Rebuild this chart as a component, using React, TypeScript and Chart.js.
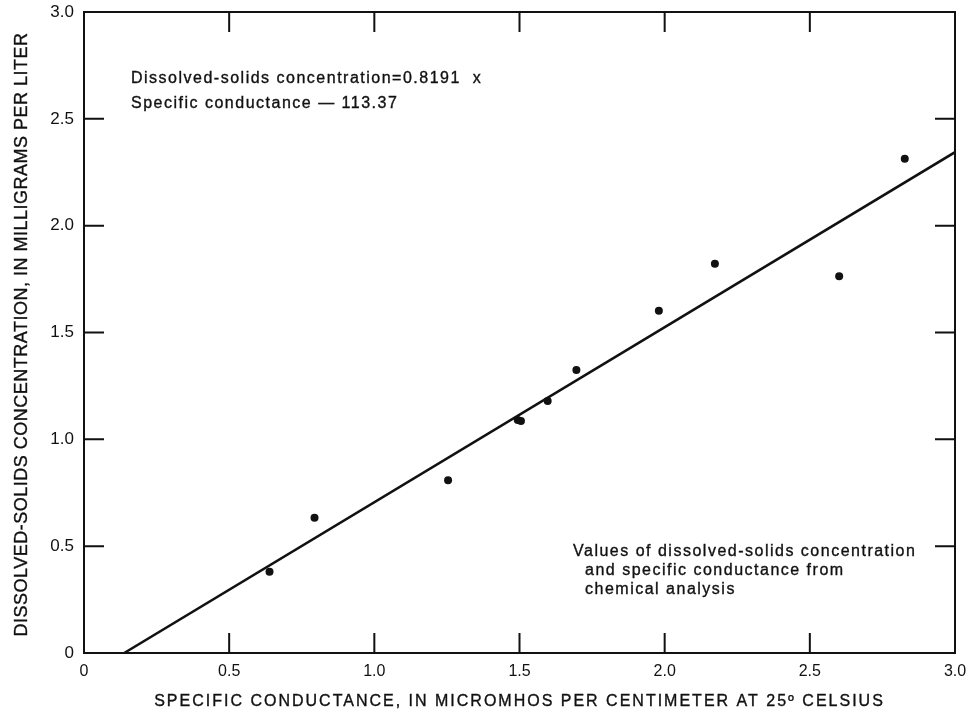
import React, { useEffect, useRef } from "react";
import { Chart, registerables } from "chart.js";

Chart.register(...registerables);

// Specific conductance (x) and dissolved-solids concentration (y)
const conductance = [0.639, 0.794, 1.254, 1.494, 1.505, 1.597, 1.696, 1.98, 2.173, 2.601, 2.827];
const dissolvedSolids = [0.38, 0.633, 0.808, 1.091, 1.086, 1.179, 1.324, 1.602, 1.822, 1.763, 2.313];

// Regression: y = 0.8191 x - 0.11337
const slope = 0.8191;
const intercept = -0.11337;
const lineXRange = [-intercept / slope, 3.0];

const xTicks = [0, 0.5, 1.0, 1.5, 2.0, 2.5, 3.0];
const yTicks = [0, 0.5, 1.0, 1.5, 2.0, 2.5, 3.0];

const xTitle = "SPECIFIC CONDUCTANCE, IN MICROMHOS PER CENTIMETER AT 25º CELSIUS";
const yTitle = "DISSOLVED-SOLIDS CONCENTRATION, IN MILLIGRAMS PER LITER";
const equationLines = ["Dissolved-solids concentration=0.8191  x", "Specific conductance — 113.37"];
const noteLines = ["Values of dissolved-solids concentration", "and specific conductance from", "chemical analysis"];

const FONT = "'Liberation Sans', Arial, Helvetica, sans-serif";
const INK = "#111";

const fmt = (v: number) => (v === 0 ? "0" : v.toFixed(1));

const heavyText = (ctx: any, text: string, x: number, y: number) => {
  ctx.fillText(text, x, y);
  ctx.strokeText(text, x, y);
};

const framePlugin = {
  id: "framePlugin",
  afterDraw(chart: any) {
    const { ctx, chartArea } = chart;
    const { left, right, top, bottom } = chartArea;
    const xs = chart.scales.x;
    const ys = chart.scales.y;
    ctx.save();
    ctx.strokeStyle = INK;
    ctx.lineWidth = 2;
    ctx.strokeRect(left, top, right - left, bottom - top);
    const tl = 20;
    ctx.beginPath();
    xTicks.slice(1, -1).forEach((v) => {
      const px = xs.getPixelForValue(v);
      ctx.moveTo(px, bottom);
      ctx.lineTo(px, bottom - tl);
      ctx.moveTo(px, top);
      ctx.lineTo(px, top + tl);
    });
    yTicks.slice(1, -1).forEach((v) => {
      const py = ys.getPixelForValue(v);
      ctx.moveTo(left, py);
      ctx.lineTo(left + tl, py);
      ctx.moveTo(right, py);
      ctx.lineTo(right - tl, py);
    });
    ctx.stroke();

    ctx.fillStyle = INK;
    ctx.lineWidth = 0.35;
    // axis titles
    ctx.font = `16px ${FONT}`;
    (ctx as any).letterSpacing = "2px";
    ctx.textAlign = "center";
    ctx.textBaseline = "alphabetic";
    heavyText(ctx, xTitle, (left + right) / 2, 706);

    ctx.save();
    ctx.translate(27, (top + bottom) / 2 + 2);
    ctx.rotate(-Math.PI / 2);
    ctx.font = `18px ${FONT}`;
    (ctx as any).letterSpacing = "0.5px";
    heavyText(ctx, yTitle, 0, 0);
    ctx.restore();

    // annotations
    ctx.font = `16px ${FONT}`;
    (ctx as any).letterSpacing = "1.5px";
    ctx.textAlign = "left";
    heavyText(ctx, equationLines[0], left + 47, top + 70.5);
    heavyText(ctx, equationLines[1], left + 47, top + 95.5);
    heavyText(ctx, noteLines[0], left + 489, top + 544);
    heavyText(ctx, noteLines[1], left + 501, top + 563);
    heavyText(ctx, noteLines[2], left + 501, top + 582);
    ctx.restore();
  },
};

const zeroPad = (s: any) => {
  s.paddingLeft = 0;
  s.paddingRight = 0;
  s.paddingTop = 0;
  s.paddingBottom = 0;
};

export default function App() {
  const ref = useRef<HTMLCanvasElement | null>(null);
  useEffect(() => {
    if (!ref.current) return;
    const chart = new Chart(ref.current, {
      type: "scatter",
      data: {
        datasets: [
          {
            label: "Regression",
            data: lineXRange.map((x) => ({ x, y: slope * x + intercept })),
            showLine: true,
            borderColor: INK,
            borderWidth: 2.5,
            pointRadius: 0,
            fill: false,
          },
          {
            label: "Analyses",
            data: conductance.map((x, i) => ({ x, y: dissolvedSolids[i] })),
            backgroundColor: INK,
            borderColor: INK,
            pointRadius: 4,
            borderWidth: 0,
          },
        ],
      },
      options: {
        responsive: false,
        animation: false,
        layout: { padding: { left: 0, right: 15, top: 12, bottom: 0 } },
        plugins: { legend: { display: false }, tooltip: { enabled: false } },
        scales: {
          x: {
            type: "linear",
            min: 0,
            max: 3,
            afterBuildTicks: (s: any) => {
              s.ticks = xTicks.map((v) => ({ value: v }));
            },
            afterFit: (s: any) => {
              s.height = 62;
              zeroPad(s);
            },
            grid: { display: false, drawTicks: false },
            border: { display: false },
            ticks: {
              padding: 9,
              color: INK,
              font: { family: FONT, size: 16 },
              maxRotation: 0,
              autoSkip: false,
              callback: (v: any) => fmt(Number(v)),
            },
          },
          y: {
            type: "linear",
            min: 0,
            max: 3,
            afterBuildTicks: (s: any) => {
              s.ticks = yTicks.map((v) => ({ value: v }));
            },
            afterFit: (s: any) => {
              s.width = 84;
              zeroPad(s);
            },
            grid: { display: false, drawTicks: false },
            border: { display: false },
            ticks: {
              padding: 10,
              color: INK,
              font: { family: FONT, size: 17 },
              autoSkip: false,
              callback: (v: any) => fmt(Number(v)),
            },
          },
        },
      },
      plugins: [framePlugin],
    });
    return () => chart.destroy();
  }, []);
  return (
    <div style={{ position: "absolute", left: 0, top: 0, width: 970, height: 715, background: "#fff" }}>
      <canvas ref={ref} width={970} height={715} />
    </div>
  );
}
